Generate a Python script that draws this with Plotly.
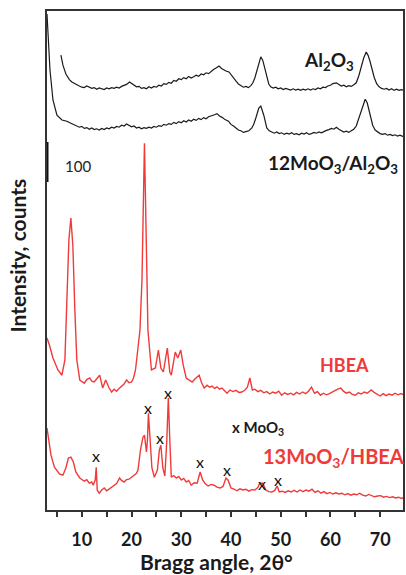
import plotly.graph_objects as go

# ---- data (2theta in degrees, intensity in counts, stacked as displayed) ----
al2o3_x = [5.8, 6.2, 6.8, 7.5, 8.0, 8.5, 9.0, 9.5, 10.0, 10.5, 11.0, 11.5, 12.0, 12.5, 13.0, 13.5,
           14.0, 14.5, 15.0, 15.5, 16.0, 16.5, 17.0, 17.5, 18.0, 18.5, 19.0, 19.6, 20.0, 20.5,
           21.0, 21.5, 22.0, 22.5, 23.0, 23.5, 24.0, 24.5, 25.0, 25.5, 26.0, 26.5, 27.0, 27.5,
           28.0, 28.5, 29.0, 29.5, 30.0, 30.5, 31.0, 31.5, 32.0, 32.5, 33.0, 33.5, 34.0, 34.5,
           35.0, 35.5, 36.0, 36.5, 37.0, 37.6, 38.1, 38.6, 39.1, 39.6, 40.1, 40.6, 41.1, 41.5,
           42.0, 42.5, 43.0, 43.5, 44.0, 44.4, 44.8, 45.2, 45.6, 46.0, 46.4, 46.8, 47.2, 47.6,
           48.0, 48.5, 49.0, 49.5, 50.0, 50.5, 51.0, 51.5, 52.0, 52.5, 53.0, 53.5, 54.0, 54.5,
           55.0, 55.5, 56.0, 56.5, 57.0, 57.5, 58.0, 58.5, 59.0, 59.5, 60.0, 60.5, 61.2, 61.7,
           62.2, 62.7, 63.2, 63.7, 64.2, 64.7, 65.2, 65.7, 66.2, 66.7, 67.2, 67.6, 68.0, 68.4,
           68.8, 69.3, 69.8, 70.3, 70.8, 71.3, 71.8, 72.3, 72.8, 73.3, 73.8, 74.3, 74.8]
al2o3_y = [1137, 1112, 1090, 1076, 1070, 1066, 1062, 1060, 1057, 1056, 1060, 1057, 1054, 1056, 1052, 1055,
           1053, 1051, 1055, 1053, 1056, 1054, 1057, 1055, 1059, 1061, 1064, 1070, 1066, 1061,
           1058, 1059, 1054, 1056, 1053, 1058, 1055, 1059, 1057, 1062, 1060, 1066, 1064, 1069,
           1067, 1074, 1072, 1078, 1076, 1081, 1078, 1084, 1080, 1083, 1087, 1084, 1090, 1088,
           1093, 1091, 1097, 1101, 1105, 1110, 1104, 1100, 1097, 1095, 1086, 1080, 1071, 1065,
           1061, 1057, 1059, 1056, 1061, 1068, 1080, 1100, 1120, 1133, 1124, 1104, 1082, 1065,
           1058, 1055, 1057, 1053, 1055, 1051, 1054, 1052, 1050, 1053, 1050, 1052, 1049, 1052,
           1050, 1053, 1050, 1053, 1051, 1055, 1053, 1057, 1056, 1060, 1062, 1066, 1068, 1064,
           1060, 1062, 1058, 1061, 1059, 1063, 1068, 1085, 1108, 1130, 1145, 1136, 1120, 1100,
           1082, 1066, 1058, 1054, 1052, 1054, 1050, 1053, 1049, 1052, 1049, 1051, 1049]

mo_al_x = [3.0, 3.3, 3.6, 4.2, 5.0, 6.0, 7.0, 7.6, 8.0, 8.5, 9.0, 9.5, 10.0, 10.5, 11.0, 11.5,
           12.0, 12.5, 13.0, 13.5, 14.0, 14.5, 15.0, 15.5, 16.0, 16.5, 17.0, 17.5, 18.0, 18.5,
           19.0, 19.5, 20.0, 20.5, 21.0, 21.5, 22.0, 22.5, 23.0, 23.5, 24.0, 24.5, 25.0, 25.5,
           26.0, 26.5, 27.0, 27.5, 28.0, 28.5, 29.0, 29.5, 30.0, 30.5, 31.0, 31.5, 32.0, 32.5,
           33.0, 33.5, 34.0, 34.5, 35.0, 35.5, 36.2, 36.7, 37.2, 37.7, 38.3, 38.8, 39.5, 40.0,
           40.5, 41.0, 41.5, 42.0, 42.5, 43.0, 43.6, 44.2, 44.6, 45.0, 45.6, 46.0, 46.6, 47.2,
           47.7, 48.2, 48.7, 49.2, 49.7, 50.2, 50.7, 51.2, 51.7, 52.2, 52.7, 53.2, 53.7, 54.2,
           54.7, 55.2, 55.7, 56.2, 56.7, 57.2, 57.7, 58.2, 58.7, 59.2, 59.7, 60.2, 60.7, 61.2,
           61.7, 62.2, 62.7, 63.2, 63.7, 64.2, 64.7, 65.2, 65.6, 66.0, 66.5, 67.0, 67.4, 67.8,
           68.2, 68.5, 69.0, 69.5, 70.0, 70.5, 71.0, 71.5, 72.0, 72.5, 73.0, 73.5, 74.0, 74.5, 75.0]
mo_al_y = [1240, 1175, 1100, 1025, 987, 975, 972, 968, 966, 962, 960, 957, 959, 954, 956, 952,
           955, 951, 953, 950, 954, 951, 955, 953, 957, 955, 959, 957, 962, 960,
           965, 961, 958, 960, 955, 957, 953, 956, 954, 957, 955, 959, 957, 961,
           959, 964, 962, 966, 964, 969, 966, 971, 968, 973, 970, 975, 972, 977,
           974, 979, 976, 981, 978, 983, 985, 988, 991, 985, 981, 976, 972, 964,
           960, 955, 950, 948, 944, 946, 948, 955, 965, 980, 1005, 1010, 987, 955,
           948, 945, 942, 945, 941, 943, 939, 942, 940, 943, 939, 941, 938, 942,
           940, 943, 939, 941, 944, 942, 945, 943, 947, 949, 951, 954, 952, 957,
           952, 948, 945, 947, 944, 948, 952, 960, 975, 995, 1012, 1027, 1018, 1000,
           978, 962, 950, 945, 941, 939, 941, 937, 939, 936, 938, 935, 937, 934, 936]

hbea_x = [3.0, 3.5, 4.2, 5.2, 6.0, 6.6, 7.0, 7.4, 7.8, 8.2, 8.6, 9.0, 9.6, 10.5, 11.0, 11.6, 12.0,
          12.5, 13.0, 13.6, 14.2, 14.8, 15.5, 16.0, 16.5, 17.0, 17.5, 18.0, 18.5, 19.0, 19.5, 20.0,
          20.4, 20.8, 21.2, 21.7, 22.1, 22.6, 23.0, 23.3, 24.0, 24.8, 25.4, 25.9, 26.4, 27.2, 27.7,
          28.0, 28.8, 29.3, 29.9, 30.4, 31.0, 31.6, 32.2, 32.8, 33.6, 34.1, 34.6, 35.2, 35.7, 36.2,
          36.7, 37.2, 37.7, 38.2, 38.7, 39.2, 39.8, 40.4, 41.0, 41.6, 42.2, 42.8, 43.3, 43.8, 44.3,
          44.8, 45.4, 46.0, 46.6, 47.2, 47.8, 48.4, 49.0, 49.6, 50.2, 50.8, 51.4, 52.0, 52.6, 53.2,
          53.8, 54.4, 55.0, 55.6, 56.2, 56.8, 57.4, 58.0, 58.6, 59.2, 59.8, 60.4, 61.0, 61.6, 62.1,
          62.6, 63.2, 63.8, 64.4, 65.0, 65.6, 66.2, 66.8, 67.4, 68.2, 68.8, 69.4, 70.0, 70.6, 71.2,
          71.8, 72.4, 73.0, 73.6, 74.2, 74.8]
hbea_y = [430, 412, 380, 350, 337, 375, 525, 675, 730, 662, 500, 375, 325, 317, 326, 330, 322,
          320, 328, 337, 305, 325, 305, 295, 302, 297, 304, 310, 315, 325, 318, 320,
          330, 350, 395, 450, 575, 917, 650, 450, 350, 355, 400, 355, 345, 405, 345,
          337, 395, 380, 400, 362, 330, 325, 320, 328, 337, 318, 305, 312, 307, 310,
          304, 308, 302, 305, 298, 292, 300, 296, 299, 294, 295, 300, 307, 330, 300,
          302, 296, 299, 293, 296, 290, 295, 292, 297, 287, 293, 289, 292, 288, 294,
          290, 295, 291, 297, 307, 292, 296, 287, 292, 288, 291, 294, 299, 303, 305,
          297, 292, 295, 289, 287, 293, 290, 295, 292, 300, 294, 290, 285, 291, 286,
          290, 287, 292, 288, 291, 288]

mo_hbea_x = [3.0, 3.3, 3.8, 4.5, 5.5, 6.2, 6.8, 7.3, 7.8, 8.3, 8.8, 9.6, 10.5, 11.0, 11.5, 12.0,
             12.3, 12.7, 12.9, 13.1, 13.5, 14.0, 14.5, 15.0, 15.5, 16.0, 16.5, 17.0, 17.6, 18.0,
             18.5, 19.0, 19.5, 20.0, 20.5, 21.0, 21.3, 21.8, 22.3, 22.6, 23.0, 23.2, 23.4, 23.7,
             24.1, 24.6, 25.2, 25.6, 25.9, 26.3, 26.7, 27.1, 27.4, 27.7, 28.0, 28.5, 29.0, 29.5,
             30.0, 30.5, 31.0, 31.5, 32.0, 32.6, 33.2, 33.8, 34.3, 34.8, 35.4, 36.0, 36.6, 37.2,
             37.8, 38.4, 39.0, 39.4, 40.0, 40.6, 41.2, 41.8, 42.4, 43.0, 43.6, 44.2, 44.8, 45.4,
             45.8, 46.4, 47.0, 47.6, 48.2, 48.8, 49.3, 49.7, 50.3, 50.9, 51.5, 52.1, 52.7, 53.3,
             53.9, 54.5, 55.1, 55.7, 56.3, 56.9, 57.5, 58.1, 58.7, 59.3, 59.9, 60.5, 61.1, 61.7,
             62.3, 62.9, 63.5, 64.1, 64.7, 65.3, 65.9, 66.5, 67.1, 67.7, 68.3, 68.9, 69.5, 70.1,
             70.7, 71.3, 71.9, 72.5, 73.1, 73.7, 74.3, 74.9]
mo_hbea_y = [205, 175, 137, 107, 90, 87, 105, 130, 132, 120, 95, 80, 72, 76, 67, 70,
             62, 75, 107, 50, 42, 50, 55, 48, 52, 58, 62, 66, 80, 74,
             70, 76, 77, 82, 85, 92, 100, 150, 182, 187, 145, 175, 242, 175,
             105, 82, 100, 150, 162, 105, 85, 175, 280, 175, 82, 86, 80, 84,
             75, 79, 70, 74, 62, 68, 67, 95, 75, 66, 60, 64, 62, 57,
             55, 59, 80, 75, 55, 52, 48, 53, 50, 52, 47, 51, 50, 56,
             67, 67, 50, 46, 45, 49, 60, 45, 47, 44, 48, 45, 49, 45,
             50, 46, 50, 47, 52, 44, 48, 42, 46, 41, 44, 40, 43, 40,
             42, 38, 41, 37, 40, 38, 42, 37, 35, 39, 36, 33, 35, 36,
             32, 34, 31, 33, 30, 32, 29, 32]

moo3_peak_x = [12.8, 23.4, 25.8, 27.4, 33.8, 39.2, 46.2, 49.4]
moo3_mark_y = [137, 257, 182, 295, 122, 102, 67, 77]

scale_bar_y = [820, 920]   # 100 counts
x_tick_vals = [10, 20, 30, 40, 50, 60, 70]

BLACK = "#1a1a1a"
RED = "#F03A3A"
FONT = "Lato"

fig = go.Figure()
fig.add_trace(go.Scatter(x=al2o3_x, y=al2o3_y, mode="lines", line=dict(color=BLACK, width=1.2)))
fig.add_trace(go.Scatter(x=mo_al_x, y=mo_al_y, mode="lines", line=dict(color=BLACK, width=1.2)))
fig.add_trace(go.Scatter(x=hbea_x, y=hbea_y, mode="lines", line=dict(color=RED, width=1.4)))
fig.add_trace(go.Scatter(x=mo_hbea_x, y=mo_hbea_y, mode="lines", line=dict(color=RED, width=1.4)))
fig.add_trace(go.Scatter(x=[3, 3], y=scale_bar_y, mode="lines", line=dict(color="#111", width=3),
                         cliponaxis=False))

ann = []
for xv, yv in zip(moo3_peak_x, moo3_mark_y):
    ann.append(dict(x=xv, y=yv, text="x", showarrow=False, xref="x", yref="y",
                    font=dict(family=FONT, size=16, color="#111")))

def lab(x, y, text, color, size, weight="bold"):
    return dict(x=x, y=y, text=text, showarrow=False, xref="x", yref="y",
                font=dict(family=FONT, size=size, color=color, weight=weight))

ann += [
    lab(59.8, 1122, "Al<sub>2</sub>O<sub>3</sub>", BLACK, 19),
    lab(60.6, 864, "12MoO<sub>3</sub>/Al<sub>2</sub>O<sub>3</sub>", BLACK, 19),
    lab(62.8, 362, "HBEA", RED, 18),
    lab(60.6, 132, "13MoO<sub>3</sub>/HBEA", RED, 20),
    lab(45.4, 205, "x MoO<sub>3</sub>", BLACK, 15),
    lab(9.2, 860, "100", "#222", 15, "normal"),
    dict(x=-0.084, y=0.51, xref="paper", yref="paper", xanchor="center", yanchor="middle",
         text="Intensity, counts", textangle=-90,
         showarrow=False, font=dict(family=FONT, size=21, color=BLACK, weight="bold")),
    dict(x=0.475, y=-0.104, xref="paper", yref="paper", xanchor="center", yanchor="middle",
         text="Bragg angle, 2θ°",
         showarrow=False, font=dict(family=FONT, size=21, color=BLACK, weight="bold")),
]

fig.update_layout(
    width=406, height=575,
    margin=dict(l=47, r=1, t=11, b=65),
    paper_bgcolor="white", plot_bgcolor="white",
    showlegend=False,
    annotations=ann,
    xaxis=dict(range=[3, 74.6], tickvals=x_tick_vals, ticks="outside", ticklen=5, tickwidth=1.5,
               tickcolor="#333", showline=True, linecolor="#333", linewidth=1.5, mirror=True,
               showgrid=False, zeroline=False, ticklabelstandoff=8,
               tickfont=dict(family=FONT, size=18, color=BLACK, weight="bold"),
               minor=dict(ticks="outside", dtick=5, tick0=0, ticklen=5, tickwidth=1.5, tickcolor="#333")),
    yaxis=dict(range=[0, 1247.5], showticklabels=False, ticks="", showline=True, linecolor="#333",
               linewidth=1.5, mirror=True, showgrid=False, zeroline=False),
)

fig.write_html("out.html")
